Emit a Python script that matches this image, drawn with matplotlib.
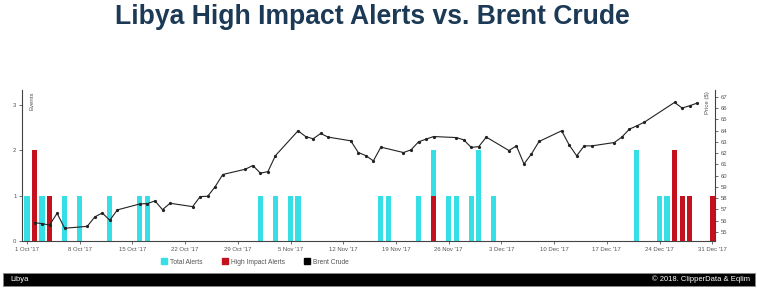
import matplotlib
matplotlib.use("Agg")
import matplotlib.pyplot as plt
import matplotlib.dates as mdates
from matplotlib.patches import Rectangle
from matplotlib.lines import Line2D
import datetime as dt

plt.rcParams['font.family'] = ['Liberation Sans', 'DejaVu Sans']

# ---- data ----
total_dates = ['2017-10-01', '2017-10-02', '2017-10-03', '2017-10-04', '2017-10-06', '2017-10-08',
               '2017-10-12', '2017-10-16', '2017-10-17', '2017-11-01', '2017-11-03', '2017-11-05',
               '2017-11-06', '2017-11-17', '2017-11-18', '2017-11-22', '2017-11-24', '2017-11-26',
               '2017-11-27', '2017-11-29', '2017-11-30', '2017-12-02', '2017-12-21', '2017-12-24',
               '2017-12-25', '2017-12-26', '2017-12-27', '2017-12-28', '2017-12-31']
total_alerts = [1, 2, 1, 1, 1, 1, 1, 1, 1, 1, 1, 1, 1, 1, 1, 1, 2, 1, 1, 1, 2, 1, 2, 1, 1, 2, 1, 1, 1]

high_dates = ['2017-10-02', '2017-10-04', '2017-11-24', '2017-12-26', '2017-12-27', '2017-12-28', '2017-12-31']
high_alerts = [2, 1, 1, 2, 1, 1, 1]

brent_dates = ['2017-10-02', '2017-10-03', '2017-10-04', '2017-10-05', '2017-10-06', '2017-10-09',
               '2017-10-10', '2017-10-11', '2017-10-12', '2017-10-13', '2017-10-16', '2017-10-17',
               '2017-10-18', '2017-10-19', '2017-10-20', '2017-10-23', '2017-10-24', '2017-10-25',
               '2017-10-26', '2017-10-27', '2017-10-30', '2017-10-31', '2017-11-01', '2017-11-02',
               '2017-11-03', '2017-11-06', '2017-11-07', '2017-11-08', '2017-11-09', '2017-11-10',
               '2017-11-13', '2017-11-14', '2017-11-15', '2017-11-16', '2017-11-17', '2017-11-20',
               '2017-11-21', '2017-11-22', '2017-11-23', '2017-11-24', '2017-11-27', '2017-11-28',
               '2017-11-29', '2017-11-30', '2017-12-01', '2017-12-04', '2017-12-05', '2017-12-06',
               '2017-12-07', '2017-12-08', '2017-12-11', '2017-12-12', '2017-12-13', '2017-12-14',
               '2017-12-15', '2017-12-18', '2017-12-19', '2017-12-20', '2017-12-21', '2017-12-22',
               '2017-12-26', '2017-12-27', '2017-12-28', '2017-12-29']
brent_price = [55.83, 55.74, 55.62, 56.66, 55.33, 55.50,
               56.33, 56.69, 56.04, 56.96, 57.49, 57.52,
               57.76, 56.98, 57.55, 57.25, 58.14, 58.17,
               59.03, 60.10, 60.57, 60.90, 60.22, 60.36,
               61.78, 63.98, 63.47, 63.27, 63.74, 63.42,
               63.09, 62.05, 61.78, 61.31, 62.53, 62.05,
               62.29, 63.00, 63.24, 63.47, 63.38, 63.18,
               62.50, 62.58, 63.42, 62.23, 62.64, 61.04,
               61.93, 63.03, 63.98, 62.73, 61.76, 62.64,
               62.64, 62.94, 63.42, 64.13, 64.42, 64.75,
               66.50, 66.00, 66.20, 66.44]

tick_dates = ['2017-10-01', '2017-10-08', '2017-10-15', '2017-10-22', '2017-10-29', '2017-11-05',
              '2017-11-12', '2017-11-19', '2017-11-26', '2017-12-03', '2017-12-10', '2017-12-17',
              '2017-12-24', '2017-12-31']
tick_labels = ["1 Oct '17", "8 Oct '17", "15 Oct '17", "22 Oct '17", "29 Oct '17", "5 Nov '17",
               "12 Nov '17", "19 Nov '17", "26 Nov '17", "3 Dec '17", "10 Dec '17", "17 Dec '17",
               "24 Dec '17", "31 Dec '17"]

CYAN = '#36dfe6'
RED = '#c4111e'
TXT = '#555555'

def d2n(s):
    return mdates.date2num(dt.datetime.strptime(s, '%Y-%m-%d'))

fig = plt.figure(figsize=(7.57, 2.96), dpi=100)
fig.patch.set_facecolor('white')

ax = fig.add_axes([22/757, 1-241/296, (715-22)/757, (241-90)/296])
ax2 = ax.twinx()

bw = 0.68
ax.bar([d2n(d) for d in total_dates], total_alerts, width=bw, color=CYAN, zorder=2)
ax.bar([d2n(d) for d in high_dates], high_alerts, width=bw, color=RED, zorder=3)

ax2.plot([d2n(d) for d in brent_dates], brent_price, color='#222222', lw=0.8,
         marker='o', ms=1.3, zorder=4)

x0 = d2n('2017-10-01')
ax.set_xlim(x0 - 0.66, x0 + 91.37)
ax.set_ylim(0, 3.32)
ax2.set_ylim(54.2, 67.6)
ax.set_yticks([0, 1, 2, 3])
ax2.set_yticks(list(range(55, 68)))
ax.set_xticks([d2n(d) for d in tick_dates])
ax.set_xticklabels(tick_labels)

for a in (ax, ax2):
    a.tick_params(labelsize=4.3, colors=TXT, length=2.5, width=0.6, pad=1.5)
    for s in a.spines.values():
        s.set_visible(False)
ax.spines['left'].set_visible(True)
ax.spines['bottom'].set_visible(True)
ax2.spines['right'].set_visible(True)
for s in (ax.spines['left'], ax.spines['bottom'], ax2.spines['right']):
    s.set_color('#444444')
    s.set_linewidth(0.8)
ax.tick_params(axis='x', length=2.5, pad=2)

ax.text(0.011, 0.99, 'Events', transform=ax.transAxes, rotation=90, fontsize=4.3,
        color=TXT, ha='left', va='top')
ax2.text(0.993, 0.99, 'Price ($)', transform=ax2.transAxes, rotation=90, fontsize=4.3,
         color=TXT, ha='right', va='top')

fig.text(372.5/757, 1-17/296, 'Libya High Impact Alerts vs. Brent Crude', ha='center', va='center',
         fontsize=19.1, fontweight='bold', color='#1c3a56')

handles = [Line2D([], [], ls='none', marker='s', ms=5, color=CYAN),
           Line2D([], [], ls='none', marker='s', ms=5, color=RED),
           Line2D([], [], ls='none', marker='s', ms=5, color='black')]
fig.legend(handles, ['Total Alerts', 'High Impact Alerts', 'Brent Crude'], ncol=3,
           loc='center', bbox_to_anchor=(255/757, 1-262/296), frameon=False,
           fontsize=4.8, handlelength=0.8, handletextpad=0.5, columnspacing=3.0,
           labelcolor=TXT)

fig.add_artist(Rectangle((3/757, 1-286/296), 752/757, 13/296, transform=fig.transFigure,
                         facecolor='black', edgecolor='#888888', lw=0.6))
fig.text(10/757, 1-279.5/296, 'Libya', color='white', fontsize=5.5, ha='left', va='center')
fig.text(750/757, 1-279.5/296, '\u00a9 2018. ClipperData & Eqlim', color='white', fontsize=5.5,
         ha='right', va='center')

fig.savefig('out.png', dpi=100, facecolor='white')
